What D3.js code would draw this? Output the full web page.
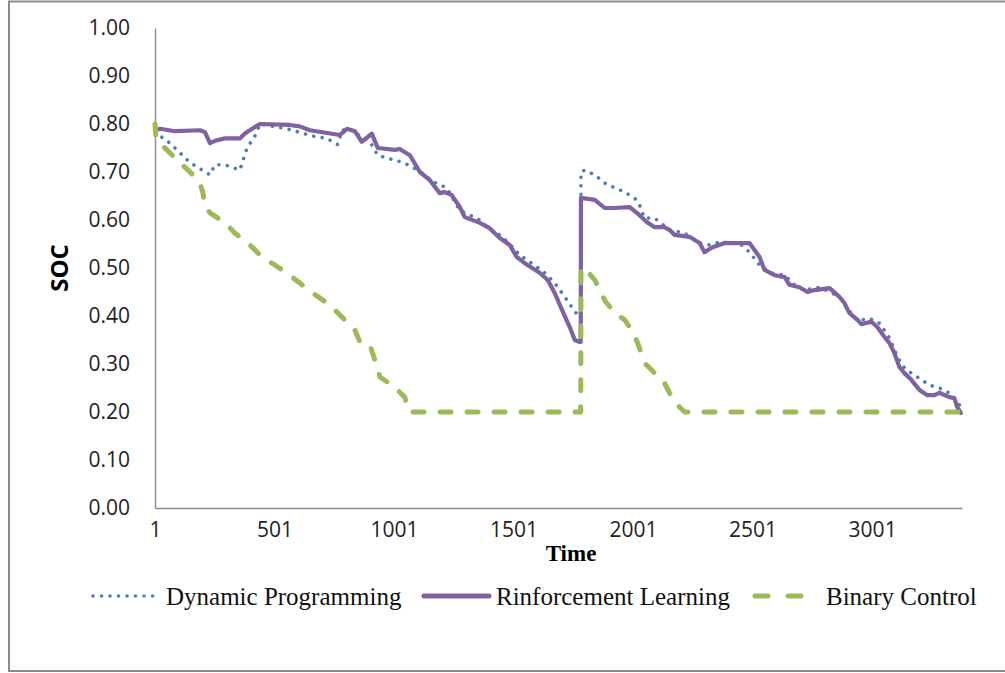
<!DOCTYPE html>
<html>
<head>
<meta charset="utf-8">
<script src="https://cdn.jsdelivr.net/npm/d3@7"></script>
<style>
    body { margin: 0; background: #fff; }
    .tick text { font-family: "Open Sans", sans-serif; font-size: 21px; fill: #222; }
    .legend text { font-family: "Liberation Serif", "Times New Roman", serif; font-size: 25px; fill: #111; }
</style>
</head>
<body>
<script>
// tick labels
let timeTicks = [1, 501, 1001, 1501, 2001, 2501, 3001];
let socTicks = [0, 0.1, 0.2, 0.3, 0.4, 0.5, 0.6, 0.7, 0.8, 0.9, 1.0];
let seriesNames = ["Dynamic Programming", "Rinforcement Learning", "Binary Control"];

// Dynamic Programming
let dpTime = [1, 64, 147, 231, 252, 294, 344, 356, 386, 419, 440, 553, 661, 720, 766, 783, 816, 858, 900, 933,
    971, 1038, 1079, 1117, 1163, 1221, 1276, 1360, 1401, 1443, 1485, 1527, 1589, 1631, 1673, 1715, 1744, 1769, 1782,
    1783, 1799, 1841, 1882, 1924, 1966, 2007, 2028, 2049, 2091, 2112, 2154, 2216, 2279, 2321, 2363, 2446, 2488, 2530,
    2572, 2635, 2676, 2718, 2781, 2823, 2864, 2906, 2940, 2990, 3032, 3073, 3094, 3115, 3136, 3165, 3199, 3241, 3282,
    3316, 3345, 3366, 3374];
let dpSoc = [0.783, 0.76, 0.72, 0.694, 0.715, 0.715, 0.706, 0.704, 0.75, 0.775, 0.80, 0.79, 0.775, 0.77, 0.757, 0.787, 0.79, 0.775, 0.763, 0.735,
    0.729, 0.72, 0.71, 0.698, 0.68, 0.667, 0.62, 0.60, 0.58, 0.569, 0.55, 0.527, 0.506, 0.49, 0.469, 0.44, 0.419, 0.402, 0.40,
    0.70, 0.704, 0.694, 0.677, 0.667, 0.658, 0.646, 0.631, 0.604, 0.604, 0.596, 0.579, 0.573, 0.552, 0.548, 0.554, 0.552, 0.533, 0.506,
    0.49, 0.485, 0.465, 0.454, 0.46, 0.45, 0.44, 0.41, 0.39, 0.395, 0.385, 0.355, 0.33, 0.308, 0.292, 0.281, 0.27, 0.256, 0.25,
    0.242, 0.229, 0.215, 0.20];

// Reinforcement Learning
let rlTime = [1, 22, 85, 189, 210, 231, 252, 294, 356, 377, 419, 440, 565, 607, 649, 774, 804, 837, 866, 908,
    933, 1004, 1025, 1067, 1109, 1151, 1192, 1213, 1242, 1276, 1297, 1360, 1401, 1443, 1485, 1514, 1548, 1610, 1644,
    1673, 1706, 1736, 1757, 1778, 1782, 1783, 1841, 1882, 1924, 1987, 2028, 2058, 2091, 2133, 2154, 2175, 2237, 2279,
    2300, 2329, 2384, 2488, 2530, 2551, 2593, 2635, 2655, 2697, 2731, 2760, 2823, 2864, 2885, 2906, 2940, 2956, 2998,
    3023, 3053, 3073, 3094, 3115, 3136, 3165, 3199, 3232, 3262, 3282, 3324, 3345, 3357, 3372];
let rlSoc = [0.787, 0.79, 0.785, 0.787, 0.783, 0.76, 0.765, 0.77, 0.77, 0.78, 0.794, 0.80, 0.798, 0.795, 0.787, 0.777, 0.79, 0.785, 0.763, 0.78,
    0.75, 0.746, 0.748, 0.735, 0.70, 0.683, 0.656, 0.658, 0.652, 0.627, 0.606, 0.594, 0.583, 0.5625, 0.548, 0.523, 0.51, 0.49, 0.475,
    0.448, 0.41, 0.377, 0.35, 0.346, 0.346, 0.646, 0.642, 0.625, 0.625, 0.627, 0.61, 0.596, 0.585, 0.585, 0.579, 0.569, 0.565, 0.552,
    0.533, 0.542, 0.552, 0.552, 0.523, 0.496, 0.485, 0.481, 0.465, 0.46, 0.45, 0.454, 0.458, 0.44, 0.427, 0.406, 0.392, 0.383, 0.388,
    0.377, 0.356, 0.344, 0.323, 0.294, 0.281, 0.267, 0.246, 0.235, 0.235, 0.24, 0.231, 0.229, 0.21, 0.198];

// Binary Control
let bcTime = [1, 5, 22, 85, 126, 168, 189, 202, 210, 231, 294, 335, 398, 448, 503, 565, 649, 733, 795, 837,
    858, 900, 921, 942, 1004, 1046, 1059, 1067, 1782, 1783, 1799, 1841, 1882, 1924, 1966, 1995, 2020, 2049, 2091,
    2133, 2162, 2196, 2217, 3374];
let bcSoc = [0.80, 0.77, 0.76, 0.729, 0.71, 0.69, 0.677, 0.656, 0.627, 0.615, 0.594, 0.573, 0.548, 0.523, 0.506, 0.485, 0.452, 0.423, 0.392, 0.371,
    0.346, 0.34, 0.308, 0.273, 0.252, 0.231, 0.204, 0.20, 0.20, 0.50, 0.50, 0.475, 0.433, 0.406, 0.392, 0.371, 0.344, 0.302, 0.281,
    0.26, 0.231, 0.21, 0.20, 0.20];

function drawChart() {
    let width = 1005, height = 673;
    let left = 155, right = 962, top = 28, bottom = 508;

    let svg = d3.select("body").append("svg")
        .attr("width", width)
        .attr("height", height);

    // outer chart frame (right edge falls outside the picture)
    svg.append("rect")
        .attr("x", 9).attr("y", 1.5)
        .attr("width", 1100).attr("height", 669.5)
        .style("fill", "#fff")
        .style("stroke", "#8c8c8c")
        .style("stroke-width", 2);

    let x = d3.scaleLinear().domain([1, 3377]).range([left, right]);
    let y = d3.scaleLinear().domain([0, 1]).range([bottom, top]);

    // axes
    let xAxis = svg.append("g")
        .attr("transform", "translate(0," + bottom + ")")
        .call(d3.axisBottom(x).tickValues(timeTicks).tickFormat(d3.format("d")).tickSize(0).tickPadding(14));
    let yAxis = svg.append("g")
        .attr("transform", "translate(" + left + ",0)")
        .call(d3.axisLeft(y).tickValues(socTicks).tickFormat(d3.format(".2f")).tickSize(0).tickPadding(25));
    [xAxis, yAxis].forEach(a => {
        a.select(".domain").style("stroke", "#8a8a8a").style("stroke-width", 1.4);
    });

    // axis titles
    svg.append("text")
        .attr("transform", "translate(68,268) rotate(-90)")
        .style("text-anchor", "middle")
        .style("font-family", "'Open Sans', sans-serif")
        .style("font-weight", "bold")
        .style("font-size", "24px")
        .text("SOC");
    svg.append("text")
        .attr("x", 571).attr("y", 561)
        .style("text-anchor", "middle")
        .style("font-family", "'Liberation Serif', serif")
        .style("font-weight", "bold")
        .style("font-size", "23px")
        .text("Time");

    let series = [
        {t: dpTime, v: dpSoc, color: "#4a7ebb", width: 3.6, dash: "0.01 8.5", cap: "round"},
        {t: rlTime, v: rlSoc, color: "#7f62a1", width: 4.2, dash: null, cap: "round"},
        {t: bcTime, v: bcSoc, color: "#9bbb59", width: 5, dash: "11 16", cap: "round"}
    ];

    let line = d3.line()
        .x(d => x(d[0]))
        .y(d => y(d[1]));

    svg.append("g")
        .selectAll("path")
        .data(series)
        .enter().append("path")
        .attr("d", s => line(s.t.map((t, i) => [t, s.v[i]])))
        .style("fill", "none")
        .style("stroke", s => s.color)
        .style("stroke-width", s => s.width)
        .style("stroke-dasharray", s => s.dash)
        .style("stroke-linecap", s => s.cap)
        .style("stroke-linejoin", "round");

    // legend
    let legendY = 596;
    let legendPos = [
        {x1: 93, x2: 156, tx: 166},
        {x1: 424, x2: 489, tx: 496},
        {x1: 755, x2: 805, tx: 826}
    ];
    let legend = svg.append("g").attr("class", "legend")
        .selectAll("g")
        .data(series)
        .enter().append("g");
    legend.append("line")
        .attr("x1", (s, i) => legendPos[i].x1)
        .attr("x2", (s, i) => legendPos[i].x2)
        .attr("y1", legendY).attr("y2", legendY)
        .style("stroke", s => s.color)
        .style("stroke-width", (s, i) => i === 1 ? 5 : s.width)
        .style("stroke-dasharray", (s, i) => i === 2 ? "13 20" : s.dash)
        .style("stroke-linecap", s => s.cap);
    legend.append("text")
        .attr("x", (s, i) => legendPos[i].tx)
        .attr("y", legendY + 9)
        .text((s, i) => seriesNames[i]);
}

drawChart();
</script>
</body>
</html>
